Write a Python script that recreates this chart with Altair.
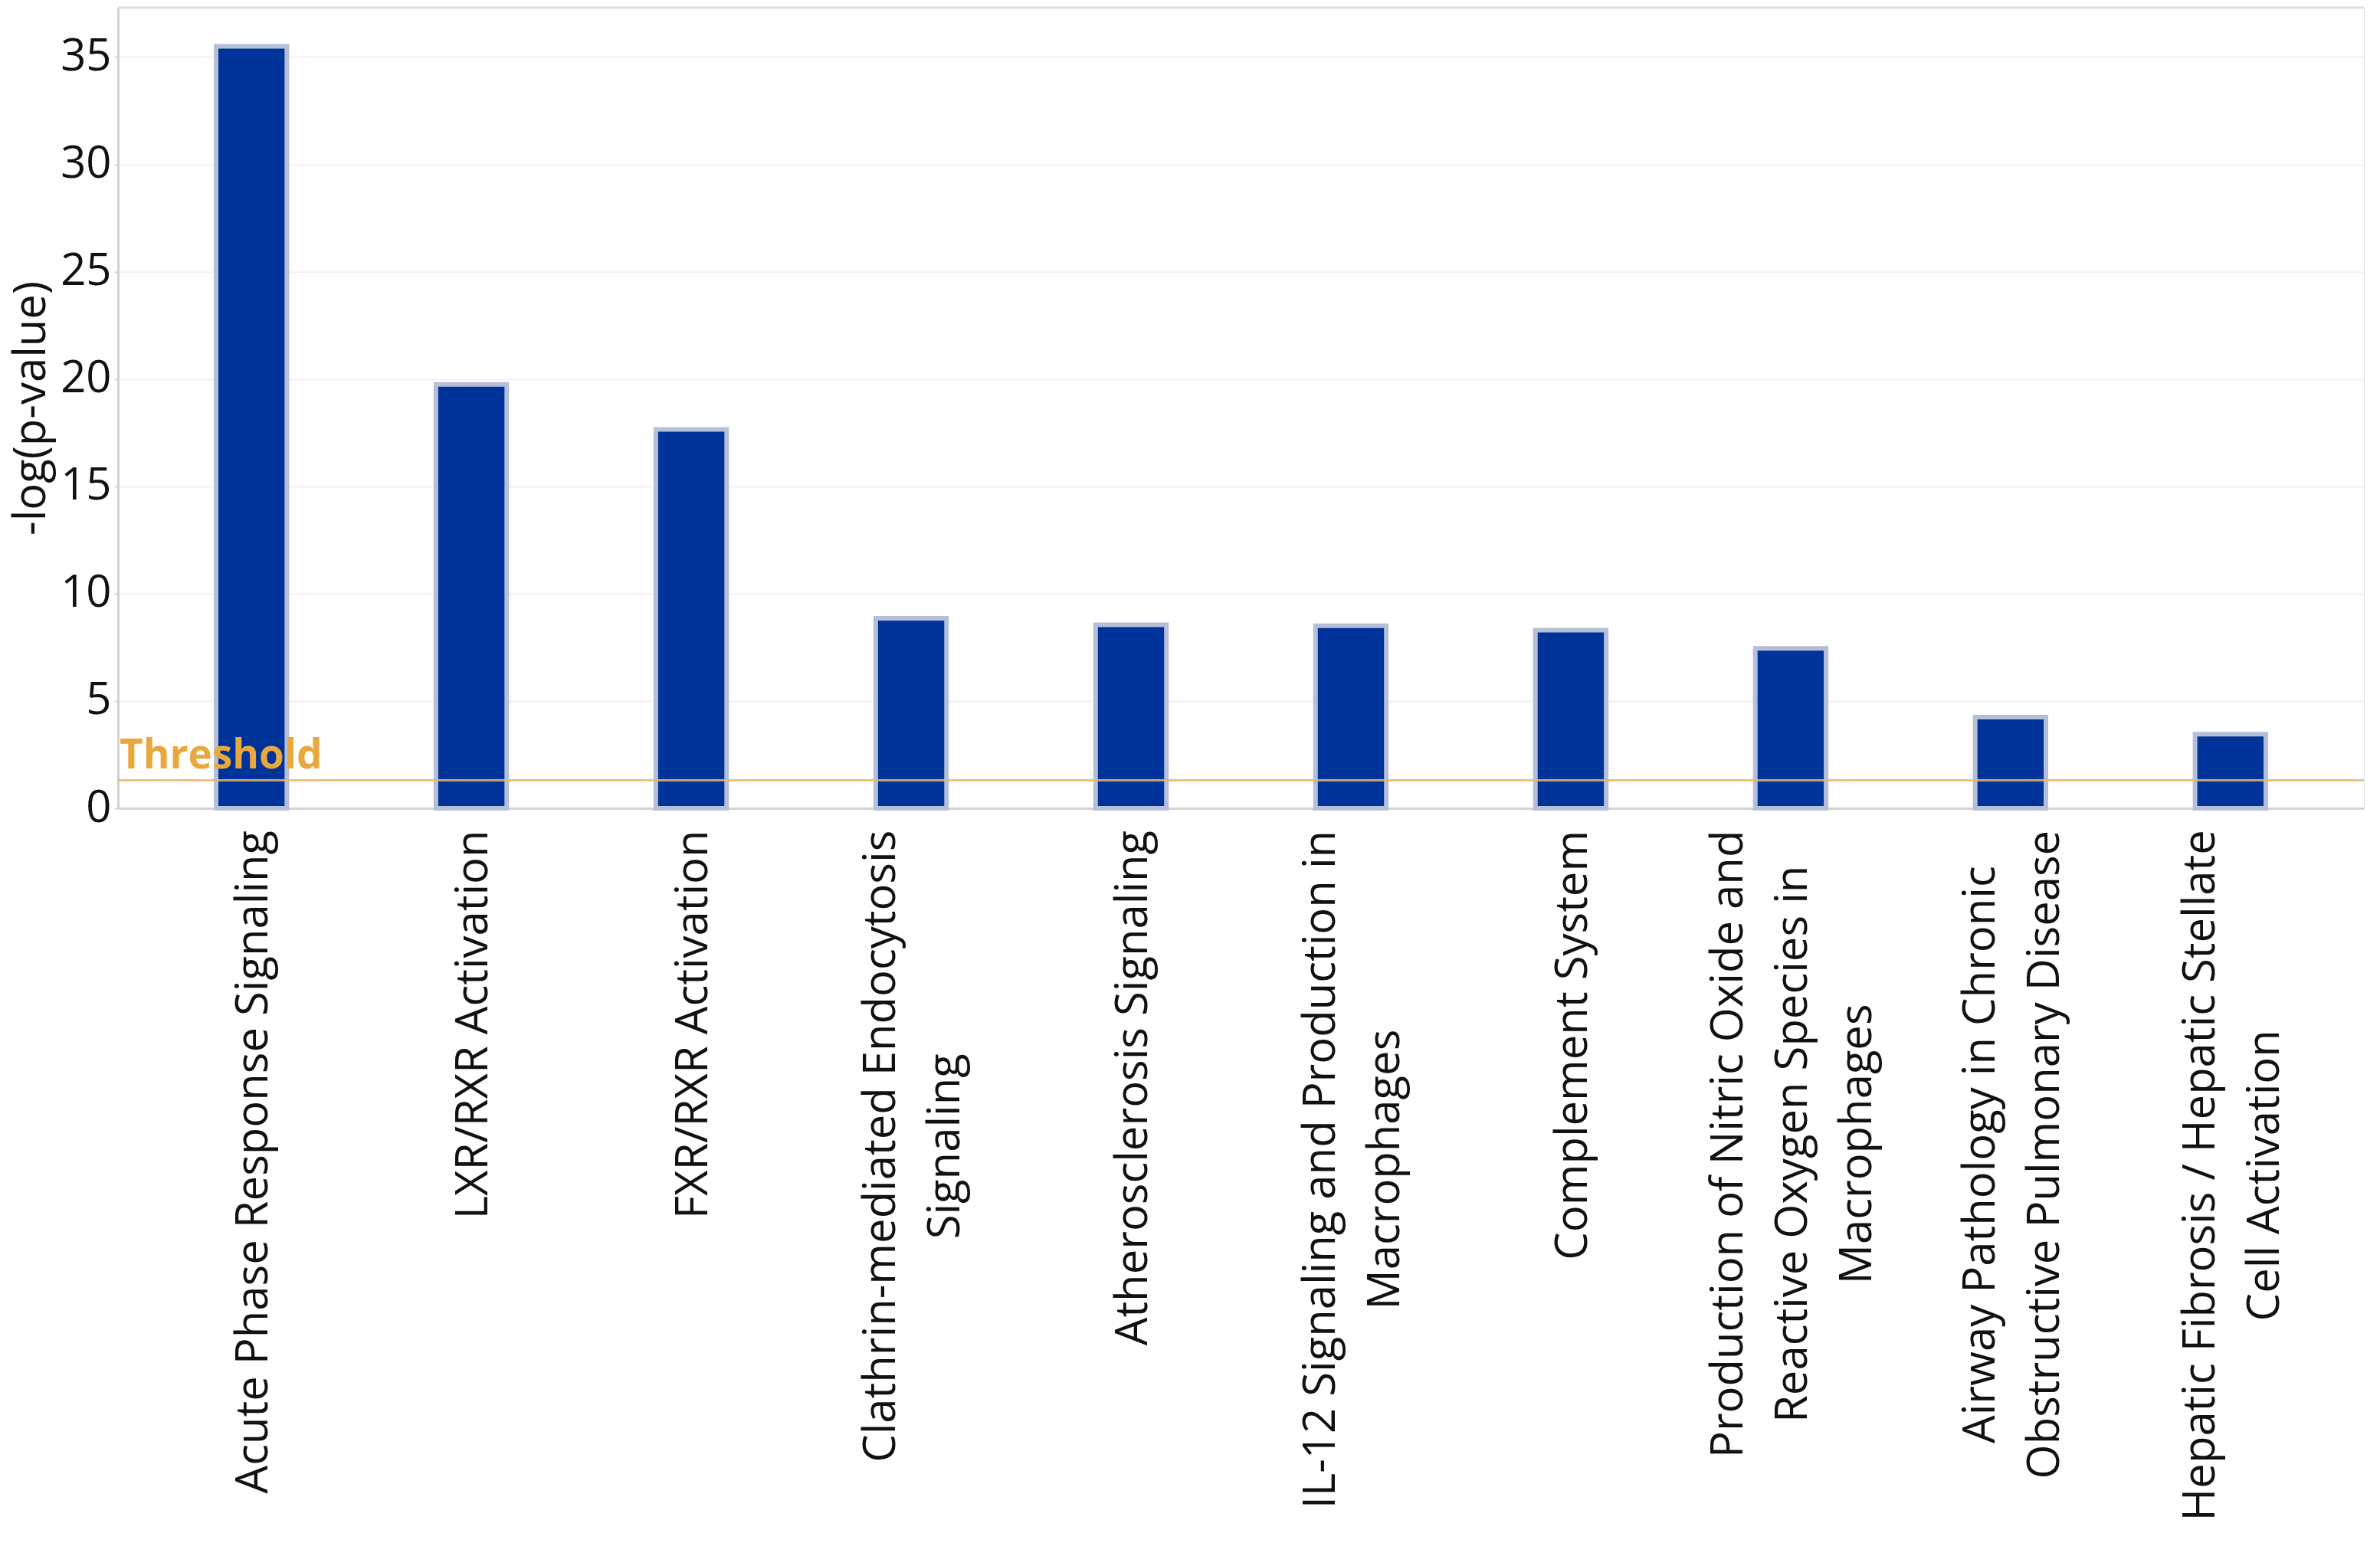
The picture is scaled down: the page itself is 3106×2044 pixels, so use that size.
import altair as alt
import pandas as pd
import glob
import json
import struct
import subprocess

pathways = [
    "Acute Phase Response Signaling",
    "LXR/RXR Activation",
    "FXR/RXR Activation",
    "Clathrin-mediated Endocytosis|Signaling",
    "Atherosclerosis Signaling",
    "IL-12 Signaling and Production in|Macrophages",
    "Complement System",
    "Production of Nitric Oxide and|Reactive Oxygen Species in|Macrophages",
    "Airway Pathology in Chronic|Obstructive Pulmonary Disease",
    "Hepatic Fibrosis / Hepatic Stellate|Cell Activation",
]
neg_log_p = [35.5, 19.75, 17.65, 8.85, 8.55, 8.5, 8.3, 7.45, 4.25, 3.45]
threshold = [1.3]
y_ticks = [0, 5, 10, 15, 20, 25, 30, 35]

FONT = "Open Sans"
LABEL_SIZE = 58
LINE_HEIGHT = 84
LABEL_GAP = 28


# ---- text measurement (advance widths read from the installed font) ----
def find_font_file():
    pats = [
        "/usr/share/fonts/**/OpenSans-Regular.ttf",
        "/usr/share/fonts/**/OpenSans*.ttf",
        "/usr/local/share/fonts/**/OpenSans*.ttf",
        "/usr/share/fonts/**/*pen*ans*.ttf",
    ]
    for p in pats:
        files = sorted(glob.glob(p, recursive=True))
        files = [f for f in files if "Italic" not in f and "Bold" not in f and "Semi" not in f
                 and "Light" not in f and "Extra" not in f and "Condensed" not in f] or files
        if files:
            return files[0]
    try:
        out = subprocess.run(["fc-match", "-f", "%{file}", FONT], capture_output=True, text=True, timeout=5)
        if out.stdout.strip().lower().endswith(".ttf"):
            return out.stdout.strip()
    except Exception:
        pass
    return None


def load_measurer(path):
    data = open(path, "rb").read()
    num_tables = struct.unpack(">H", data[4:6])[0]
    tables = {}
    for i in range(num_tables):
        tag, _cs, off, ln = struct.unpack(">4sIII", data[12 + 16 * i: 28 + 16 * i])
        tables[tag.decode("latin1")] = (off, ln)
    upem = struct.unpack(">H", data[tables["head"][0] + 18: tables["head"][0] + 20])[0]
    num_hm = struct.unpack(">H", data[tables["hhea"][0] + 34: tables["hhea"][0] + 36])[0]
    hoff = tables["hmtx"][0]
    adv = [struct.unpack(">H", data[hoff + 4 * i: hoff + 4 * i + 2])[0] for i in range(num_hm)]
    coff = tables["cmap"][0]
    nsub = struct.unpack(">H", data[coff + 2: coff + 4])[0]
    cmap = {}
    for i in range(nsub):
        pid, eid, soff = struct.unpack(">HHI", data[coff + 4 + 8 * i: coff + 12 + 8 * i])
        sub = coff + soff
        fmt = struct.unpack(">H", data[sub: sub + 2])[0]
        if fmt != 4 or pid not in (0, 3):
            continue
        seg_x2 = struct.unpack(">H", data[sub + 6: sub + 8])[0]
        seg = seg_x2 // 2
        ends = struct.unpack(">%dH" % seg, data[sub + 14: sub + 14 + seg_x2])
        starts = struct.unpack(">%dH" % seg, data[sub + 16 + seg_x2: sub + 16 + 2 * seg_x2])
        deltas = struct.unpack(">%dh" % seg, data[sub + 16 + 2 * seg_x2: sub + 16 + 3 * seg_x2])
        rpos = sub + 16 + 3 * seg_x2
        roffs = struct.unpack(">%dH" % seg, data[rpos: rpos + seg_x2])
        for s in range(seg):
            for c in range(starts[s], min(ends[s], 0x024F) + 1):
                if roffs[s] == 0:
                    g = (c + deltas[s]) & 0xFFFF
                else:
                    addr = rpos + 2 * s + roffs[s] + 2 * (c - starts[s])
                    g = struct.unpack(">H", data[addr: addr + 2])[0]
                    if g:
                        g = (g + deltas[s]) & 0xFFFF
                cmap[c] = g
        break
    if not cmap:
        raise ValueError("no cmap")

    def measure(text, size):
        tot = 0
        for ch in text:
            g = cmap.get(ord(ch), 0)
            tot += adv[min(g, num_hm - 1)]
        return tot * size / upem

    return measure


def fallback_measure(text, size):
    return 0.52 * size * len(text)


try:
    _path = find_font_file()
    measure = load_measurer(_path) if _path else fallback_measure
except Exception:
    measure = fallback_measure

# per-label layout of the wrapped category labels: the block is centred on
# its bar, lines are centred on one another, the longest line starts at the axis gap
pad_conditions = []
offset_conditions = []
for cat in pathways:
    lines = cat.split("|")
    longest = max(measure(line, LABEL_SIZE) for line in lines)
    test = "datum.value === " + json.dumps(cat)
    pad_conditions.append({"test": test, "value": round(LABEL_GAP + longest / 2, 1)})
    offset_conditions.append({"test": test, "value": round(-(len(lines) - 1) * LINE_HEIGHT / 2 + 4, 1)})

df = pd.DataFrame({"pathway": pathways, "value": neg_log_p})
tdf = pd.DataFrame({"t": threshold, "label": ["Threshold"]})

y_scale = alt.Scale(domain=[0, 37.3], nice=False)

bars = alt.Chart(df).mark_bar(
    color="#003399", stroke="#b6bfd8", strokeWidth=6
).encode(
    x=alt.X(
        "pathway:N",
        sort=None,
        scale=alt.Scale(paddingInner=0.678, paddingOuter=0.446),
        axis=alt.Axis(
            title=None,
            labelAngle=-90,
            labelAlign="center",
            labelBaseline="middle",
            labelFont=FONT,
            labelFontSize=LABEL_SIZE,
            labelColor="#111111",
            labelLineHeight=LINE_HEIGHT,
            labelExpr="split(datum.label, '|')",
            labelPadding={"condition": pad_conditions, "value": LABEL_GAP},
            labelOffset={"condition": offset_conditions, "value": 0},
            labelLimit=0,
            labelOverlap=False,
            ticks=False,
            domainColor="#d2d2d2",
            domainWidth=3,
            grid=False,
        ),
    ),
    y=alt.Y(
        "value:Q",
        scale=y_scale,
        axis=alt.Axis(
            title="-log(p-value)",
            values=y_ticks,
            labelFont=FONT,
            labelFontSize=58,
            labelColor="#111111",
            labelPadding=4,
            titleFont=FONT,
            titleFontSize=58,
            titleFontWeight="normal",
            titleColor="#111111",
            titlePadding=8,
            tickColor="#d2d2d2",
            tickSize=5,
            tickWidth=2,
            domainColor="#d2d2d2",
            domainWidth=3,
            gridColor="#f1f1f1",
            gridWidth=2,
        ),
    ),
)

top_border = alt.Chart(tdf).mark_rule(color="#dedede", strokeWidth=3).encode(
    y=alt.value(0)
)

rule = alt.Chart(tdf).mark_rule(color="#e9b766", strokeWidth=3, opacity=0.85).encode(
    y=alt.Y("t:Q", scale=y_scale)
)

label = alt.Chart(tdf).mark_text(
    align="left",
    baseline="alphabetic",
    dx=2,
    dy=-16,
    font=FONT,
    fontSize=53,
    fontWeight="bold",
    color="#e8a83e",
).encode(
    x=alt.value(0),
    y=alt.Y("t:Q", scale=y_scale),
    text="label:N",
)

chart = (
    alt.layer(bars, top_border, rule, label)
    .properties(width=2931, height=1045, padding={"left": 4, "top": 0, "right": 5, "bottom": 0})
    .configure_view(stroke=None)
    .configure(background="white")
)

chart.save("out.html", embed_options={"renderer": "svg", "actions": False})
